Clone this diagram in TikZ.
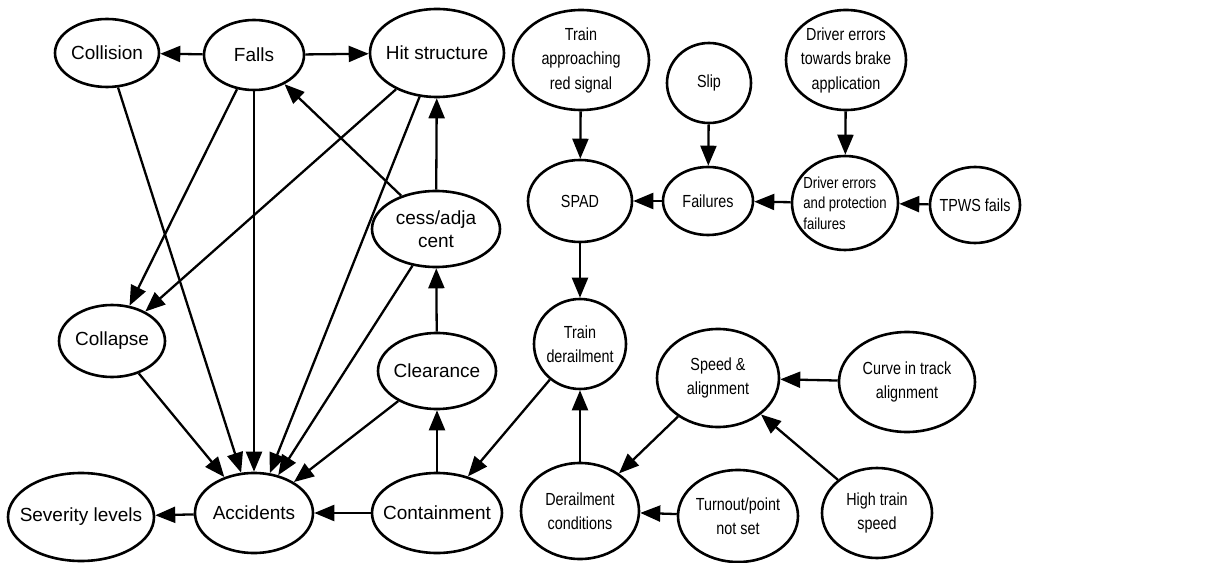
\documentclass[tikz,border=0pt]{standalone}
\usepackage{fontspec}
\setmainfont{Liberation Sans}
\newfontfamily\narrowfont[FakeStretch=0.82]{Liberation Sans}
\usetikzlibrary{shapes.geometric,arrows.meta}
\begin{document}
\begin{tikzpicture}[x=1bp,y=-1bp,
  bub/.style={draw,ellipse,line width=2.6bp,inner sep=-20bp,align=center,
    font=\fontsize{19bp}{23bp}\selectfont},
  nbub/.style={bub,font=\narrowfont\fontsize{17.5bp}{24.5bp}\selectfont},
  sz/.style 2 args={minimum width=#1bp,minimum height=#2bp},
  edge/.style={line width=2.3bp,-{Triangle[length=20bp,width=16bp]}}]
\useasboundingbox (0,0) rectangle (1212,563);

% hazard side
\node[bub,sz={104}{68}] (collision) at (107,53) {Collision};
\node[bub,sz={100}{70}] (falls) at (254,55) {Falls};
\node[bub,sz={134}{88}] (hit) at (437,53) {Hit structure};
\node[bub,sz={128}{76}] (cess) at (436,229) {cess/adja\\cent};
\node[bub,sz={106}{72}] (collapse) at (112,341) {Collapse};
\node[bub,sz={118}{76}] (clearance) at (437,371) {Clearance};
\node[bub,sz={118}{80}] (accidents) at (254,513) {Accidents};
\node[bub,sz={146}{88}] (severity) at (81,517) {Severity levels};
\node[bub,sz={130}{80}] (containment) at (437,513) {Containment};

% causes side
\node[nbub,sz={136}{100}] (approach) at (581,60) {Train\\approaching\\red signal};
\node[nbub,sz={84}{80}] (slip) at (709,83) {Slip};
\node[nbub,sz={120}{100}] (brake) at (846,60) {Driver errors\\towards brake\\application};
\node[nbub,sz={104}{82}] (spad) at (580,201) {SPAD};
\node[nbub,sz={90}{68}] (failures) at (708,201) {Failures};
\node[nbub,sz={106}{94},align=left,font=\narrowfont\fontsize{16bp}{20.5bp}\selectfont] (protect) at (845,203) {Driver errors\\and protection\\failures};
\node[nbub,sz={90}{76}] (tpws) at (975,205) {TPWS fails};
\node[nbub,sz={92}{90}] (derail) at (580,344) {Train\\derailment};
\node[nbub,sz={122}{98}] (speed) at (718,378) {Speed \&\\alignment};
\node[nbub,sz={136}{100}] (curve) at (907,382) {Curve in track\\alignment};
\node[nbub,sz={118}{96}] (dcond) at (580,511) {Derailment\\conditions};
\node[nbub,sz={120}{92}] (turnout) at (738,516) {Turnout/point\\not set};
\node[nbub,sz={110}{90}] (high) at (877,513) {High train\\speed};

% connectors
\draw[edge] (falls) -- (collision);
\draw[edge] (falls) -- (hit);
\draw[edge] (falls) -- (collapse);
\draw[edge] (falls) -- (accidents);
\draw[edge] (collision) -- (accidents);
\draw[edge] (hit) -- (collapse);
\draw[edge] (hit) -- (accidents);
\draw[edge] (cess) -- (falls);
\draw[edge] (cess) -- (hit);
\draw[edge] (cess) -- (accidents);
\draw[edge] (clearance) -- (cess);
\draw[edge] (clearance) -- (accidents);
\draw[edge] (collapse) -- (accidents);
\draw[edge] (containment) -- (clearance);
\draw[edge] (containment) -- (accidents);
\draw[edge] (accidents) -- (severity);
\draw[edge] (derail) -- (containment);
\draw[edge] (approach) -- (spad);
\draw[edge] (spad) -- (derail);
\draw[edge] (slip) -- (failures);
\draw[edge] (failures) -- (spad);
\draw[edge] (brake) -- (protect);
\draw[edge] (protect) -- (failures);
\draw[edge] (tpws) -- (protect);
\draw[edge] (dcond) -- (derail);
\draw[edge] (speed) -- (dcond);
\draw[edge] (curve) -- (speed);
\draw[edge] (high) -- (speed);
\draw[edge] (turnout) -- (dcond);
\end{tikzpicture}
\end{document}
